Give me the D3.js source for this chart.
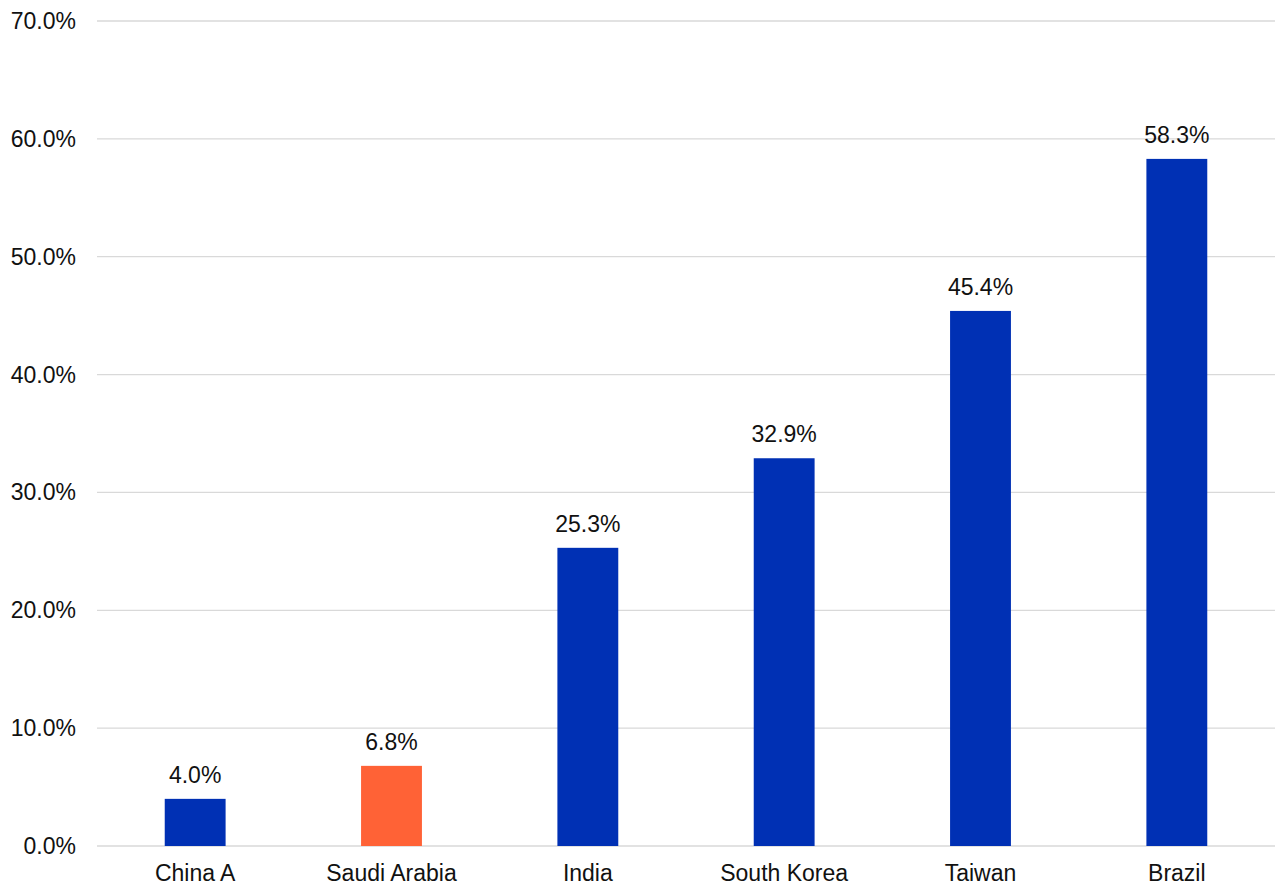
<!DOCTYPE html>
<html>
<head>
<meta charset="utf-8">
<script src="https://cdn.jsdelivr.net/npm/d3@7"></script>
<style>
  body { margin: 0; background: #fff; }
  svg { display: block; font-family: "Liberation Sans", Arial, sans-serif; }
</style>
</head>
<body>
<svg id="chart" width="1280" height="889"></svg>
<script>
const categories = ["China A", "Saudi Arabia", "India", "South Korea", "Taiwan", "Brazil"];
const values = [4.0, 6.8, 25.3, 32.9, 45.4, 58.3];
const highlight = ["Saudi Arabia"];
const yTicks = [0, 10, 20, 30, 40, 50, 60, 70];

const svg = d3.select("#chart");
const margin = { top: 21, right: 5, bottom: 43, left: 97 };
const width = 1280 - margin.left - margin.right;
const height = 889 - margin.top - margin.bottom;

const g = svg.append("g")
  .attr("transform", `translate(${margin.left},${margin.top})`);

const x = d3.scaleBand()
  .domain(categories)
  .range([0, width])
  .paddingInner(0.69)
  .paddingOuter(0.345);

const y = d3.scaleLinear()
  .domain([0, 70])
  .range([height, 0]);

// gridlines
g.append("g")
  .selectAll("line")
  .data(yTicks)
  .join("line")
  .attr("x1", 0)
  .attr("x2", width)
  .attr("y1", d => y(d))
  .attr("y2", d => y(d))
  .attr("stroke", "#d9d9d9")
  .attr("stroke-width", 1.3);

// y tick labels
g.append("g")
  .selectAll("text")
  .data(yTicks)
  .join("text")
  .attr("x", -21)
  .attr("y", d => y(d))
  .attr("dy", "0.35em")
  .attr("text-anchor", "end")
  .attr("font-size", "23px")
  .attr("fill", "#111")
  .text(d => d.toFixed(1) + "%");

// bars
g.append("g")
  .selectAll("rect")
  .data(categories)
  .join("rect")
  .attr("x", d => x(d))
  .attr("width", x.bandwidth())
  .attr("y", (d, i) => y(values[i]))
  .attr("height", (d, i) => y(0) - y(values[i]))
  .attr("fill", d => highlight.includes(d) ? "#ff6236" : "#0030b4");

// value labels
g.append("g")
  .selectAll("text")
  .data(categories)
  .join("text")
  .attr("x", d => x(d) + x.bandwidth() / 2)
  .attr("y", (d, i) => y(values[i]) - 16)
  .attr("text-anchor", "middle")
  .attr("font-size", "23px")
  .attr("fill", "#111")
  .text((d, i) => values[i].toFixed(1) + "%");

// category labels
g.append("g")
  .selectAll("text")
  .data(categories)
  .join("text")
  .attr("x", d => x(d) + x.bandwidth() / 2)
  .attr("y", height + 35)
  .attr("text-anchor", "middle")
  .attr("font-size", "23px")
  .attr("fill", "#111")
  .text(d => d);
</script>
</body>
</html>
